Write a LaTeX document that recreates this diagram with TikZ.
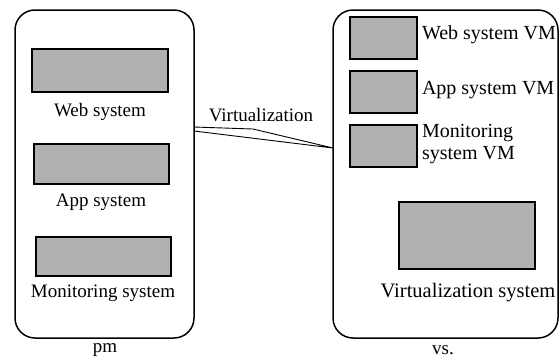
\documentclass[tikz,border=0pt]{standalone}
\usepackage{fontspec}
\setmainfont{Liberation Serif}
\definecolor{boxgray}{RGB}{176,176,176}
\begin{document}
\begin{tikzpicture}[x=1pt,y=-1pt]
\useasboundingbox (0,0) rectangle (559,360);
\tikzstyle{every node}=[inner sep=0pt,outer sep=0pt]
\tikzstyle{machine}=[draw,line width=1.5pt,rounded corners=20pt,rectangle]
\tikzstyle{sysbox}=[draw,line width=1.2pt,fill=boxgray,rectangle]
\tikzstyle{lbl}=[font=\fontsize{19}{22}\selectfont]
\tikzstyle{vmlbl}=[font=\fontsize{20}{22}\selectfont,anchor=west,align=left]
% physical machine
\node[machine,minimum width=179pt,minimum height=328pt](pm) at (104.5,174) {};
\node[sysbox,minimum width=136pt,minimum height=43pt](l1) at (100,70.5) {};
\node[lbl](t1) at (100,112) {Web system};
\node[sysbox,minimum width=135pt,minimum height=40pt](l2) at (101.5,164) {};
\node[lbl](t2) at (101,202) {App system};
\node[sysbox,minimum width=135pt,minimum height=39pt](l3) at (103.5,256.5) {};
\node[lbl](t3) at (103,293) {Monitoring system};
\node[lbl](pmname) at (105,350) {pm};
% virtualized machine
\node[machine,minimum width=225pt,minimum height=328pt](vs) at (445.5,174) {};
\node[sysbox,minimum width=67pt,minimum height=42pt](r1) at (383.5,38) {};
\node[vmlbl](u1) at (422,35) {Web system VM};
\node[sysbox,minimum width=67pt,minimum height=42pt](r2) at (383.5,92) {};
\node[vmlbl](u2) at (422,90) {App system VM};
\node[sysbox,minimum width=67pt,minimum height=42pt](r3) at (383.5,146) {};
\node[vmlbl](u3) at (422,144) {Monitoring\\system VM};
\node[sysbox,minimum width=136pt,minimum height=67pt](r4) at (467,235.5) {};
\node[font=\fontsize{20.5}{22}\selectfont](u4) at (468,293) {Virtualization system};
\node[lbl](vsname) at (443,350) {vs.};
% callout
\node[lbl](virt) at (261,115) {Virtualization};
\coordinate (bend) at (253,129);
\draw[line width=0.9pt] (pm.east |- 0,127) -- (bend) -- (vs.west |- 0,148) -- (pm.east |- 0,131);
\end{tikzpicture}
\end{document}
